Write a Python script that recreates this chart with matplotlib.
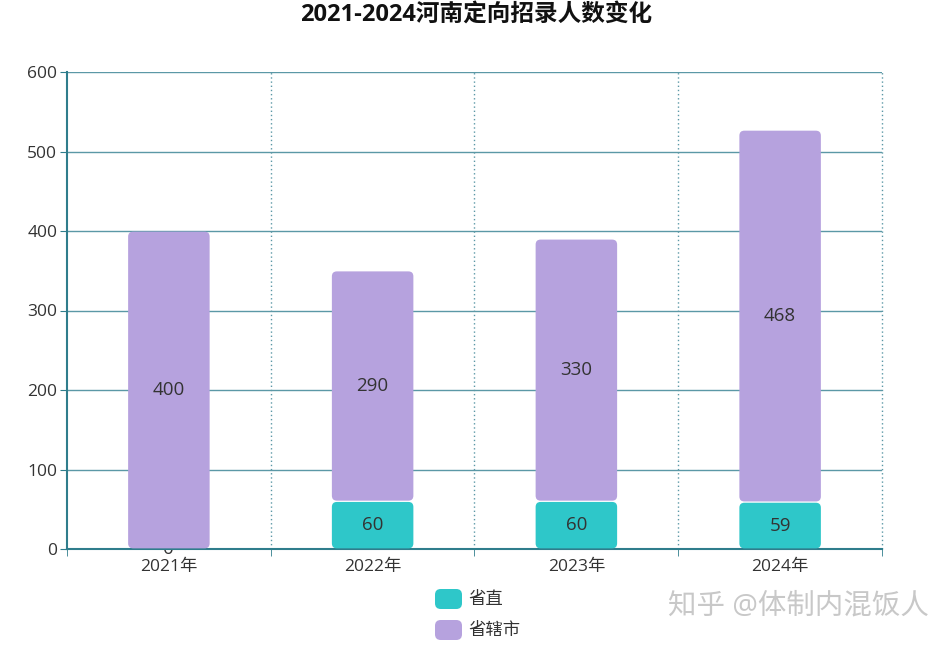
"""2021-2024 Henan targeted recruitment stacked bar chart."""

import matplotlib
matplotlib.use("Agg")
import matplotlib.pyplot as plt
from matplotlib.patches import FancyBboxPatch

plt.rcParams["font.family"] = ["Open Sans", "Noto Sans CJK SC", "DejaVu Sans"]

years = ["2021年", "2022年", "2023年", "2024年"]
provincial = [0, 60, 60, 59]          # 省直
municipal = [400, 290, 330, 468]      # 省辖市
series_names = ["省直", "省辖市"]
colors = ["#2ec7c9", "#b6a2de"]
title = "2021-2024河南定向招录人数变化"
watermark = "知乎 @体制内混饭人"

fig = plt.figure(figsize=(9.53, 6.46), dpi=100)
ax = fig.add_axes([67 / 953, 1 - 549 / 646, 815 / 953, 477 / 646])

x = list(range(len(years)))
bars_a = ax.bar(x, provincial, width=0.4, color=colors[0])
bars_b = ax.bar(x, municipal, width=0.4, bottom=provincial, color=colors[1])

ax.set_xlim(-0.5, len(years) - 0.5)
ax.set_ylim(0, 600)

# swap plain rectangles for rounded ones (radius in pixels -> data units)
px_x = 815 / len(years)
px_y = 477 / 600
radius = 5 / px_x
aspect = px_x / px_y
for bars in (bars_a, bars_b):
    for rect in bars:
        h = rect.get_height()
        if h <= 0:
            rect.remove()
            continue
        rx, ry, w = rect.get_x(), rect.get_y(), rect.get_width()
        patch = FancyBboxPatch(
            (rx, ry + 0.8), w, h - 1.6,
            boxstyle=f"round,pad=0,rounding_size={radius}",
            mutation_aspect=aspect,
            facecolor=rect.get_facecolor(), edgecolor="none", zorder=3,
        )
        ax.add_patch(patch)
        rect.remove()

# value labels
for i in x:
    ax.text(i, provincial[i] / 2, str(provincial[i]), ha="center", va="center",
            fontsize=13.5, color="#333333", zorder=2 if provincial[i] == 0 else 4)
    ax.text(i, provincial[i] + municipal[i] / 2, str(municipal[i]), ha="center",
            va="center", fontsize=13.5, color="#333333", zorder=4)

axis_color = "#2f7d8c"
grid_color = "#5b98a6"
ax.set_yticks(range(0, 601, 100))
ax.yaxis.grid(True, color=grid_color, linewidth=1.0, zorder=0)
ax.set_axisbelow(True)
for b in [0.5, 1.5, 2.5, 3.5]:
    ax.axvline(b, color=grid_color, linestyle=(0, (1, 2)), linewidth=1.0,
               zorder=0, clip_on=False)

ax.set_xticks(x)
ax.set_xticklabels(years, fontsize=12.5, color="#333333")
ax.tick_params(axis="x", length=0, pad=7)
ax.set_xticks([-0.5, 0.5, 1.5, 2.5, 3.5], minor=True)
ax.tick_params(axis="x", which="minor", length=5, color=axis_color)
ax.tick_params(axis="y", length=5, color=axis_color, labelsize=12.5,
               labelcolor="#333333", pad=2)

for side in ("left", "bottom"):
    ax.spines[side].set_color(axis_color)
    ax.spines[side].set_linewidth(1.5)
ax.spines["top"].set_visible(False)
ax.spines["right"].set_visible(False)

fig.text(476 / 953, 1 - 15 / 646, title, ha="center", va="center",
         fontsize=17, fontweight="bold", color="#111111")

# legend
for k, (name, col) in enumerate(zip(series_names, colors)):
    yc = 599 + 31 * k
    sw = FancyBboxPatch(
        (435 / 953, 1 - (yc + 10) / 646), 27 / 953, 20 / 646,
        boxstyle="round,pad=0,rounding_size=0.006",
        transform=fig.transFigure, facecolor=col, edgecolor="none",
        mutation_aspect=953 / 646,
    )
    fig.patches.append(sw)
    fig.text(468 / 953, 1 - (yc + 1) / 646, name, ha="left", va="center",
             fontsize=12.5, color="#333333")

fig.text(668 / 953, 1 - 606 / 646, watermark, ha="left", va="center",
         fontsize=20.5, color="#c8c8c8")

fig.savefig("out.png", dpi=100)
